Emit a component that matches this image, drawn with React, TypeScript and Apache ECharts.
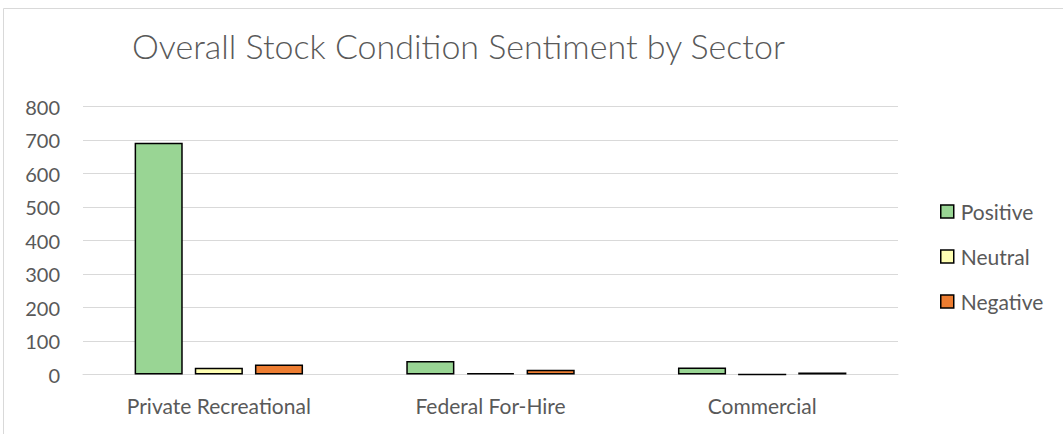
import React, { useEffect, useRef } from "react";
import * as echarts from "echarts";

const categories = ["Private Recreational", "Federal For-Hire", "Commercial"];
const positive = [692, 40, 21];
const neutral = [20, 4, 0];
const negative = [30, 14, 6];
const yTicks = [0, 100, 200, 300, 400, 500, 600, 700, 800];

const FONT = "Lato, 'Open Sans', sans-serif";
const TEXT = "#595959";

export default function App() {
  const ref = useRef<HTMLDivElement>(null);
  useEffect(() => {
    if (!ref.current) return;
    const chart = echarts.init(ref.current, undefined, { renderer: "svg" });
    const barStyle = (color: string) => ({
      color,
      borderColor: "#000",
      borderWidth: 1.5,
    });
    chart.setOption({
      animation: false,
      backgroundColor: "#fff",
      textStyle: { fontFamily: FONT },
      graphic: [
        {
          type: "rect",
          shape: { x: 3.5, y: 8.5, width: 1200, height: 600 },
          style: { fill: "none", stroke: "#d9d9d9", lineWidth: 1 },
          silent: true,
          z: -1,
        },
      ],
      title: {
        text: "Overall Stock Condition Sentiment by Sector",
        left: 127,
        top: 23,
        textStyle: { fontFamily: FONT, fontSize: 34, fontWeight: 300, color: TEXT },
      },
      legend: {
        orient: "vertical",
        left: 940,
        top: 201,
        padding: 0,
        itemWidth: 13,
        itemHeight: 13,
        itemGap: 24,
        icon: "rect",
        itemStyle: { borderColor: "#000", borderWidth: 1.5 },
        textStyle: { fontFamily: FONT, fontSize: 21, color: TEXT, padding: [0, 0, 0, 2] },
        data: ["Positive", "Neutral", "Negative"],
      },
      grid: { left: 83, right: 165, top: 106.5, bottom: 59.5, containLabel: false },
      xAxis: {
        type: "category",
        data: categories,
        axisLine: { show: true, lineStyle: { color: "#d9d9d9", width: 1 } },
        axisTick: { show: false },
        axisLabel: { color: TEXT, fontSize: 21, fontFamily: FONT, margin: 20 },
      },
      yAxis: {
        type: "value",
        min: yTicks[0],
        max: yTicks[yTicks.length - 1],
        interval: 100,
        axisLine: { show: false },
        axisTick: { show: false },
        splitLine: { lineStyle: { color: "#d9d9d9", width: 1 } },
        axisLabel: { color: TEXT, fontSize: 20, fontFamily: FONT, margin: 23 },
      },
      series: [
        { name: "Positive", type: "bar", data: positive, itemStyle: barStyle("#99D594"), barGap: "25%", barCategoryGap: "38%" },
        { name: "Neutral", type: "bar", data: neutral, itemStyle: barStyle("#FFFFB3"), barGap: "25%", barCategoryGap: "38%" },
        { name: "Negative", type: "bar", data: negative, itemStyle: barStyle("#ED7D31"), barGap: "25%", barCategoryGap: "38%" },
      ],
    });
    return () => chart.dispose();
  }, []);
  return (
    <div
      ref={ref}
      style={{ position: "fixed", left: 0, top: 0, width: 1063, height: 434 }}
    />
  );
}
